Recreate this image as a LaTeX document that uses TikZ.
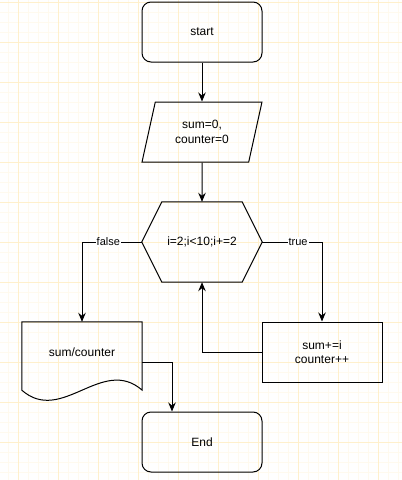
\documentclass[tikz,border=0pt]{standalone}
\usepackage{fontspec}
\setmainfont{Liberation Sans}
\usetikzlibrary{arrows.meta,shapes.geometric}
\definecolor{gridmajor}{HTML}{FFF0CC}
\definecolor{gridminor}{HTML}{FFFAEE}
\begin{document}
\begin{tikzpicture}[x=1pt,y=-1pt,
    every node/.style={font=\fontsize{12}{14.4}\selectfont, align=center},
    box/.style={draw, line width=1pt, minimum width=120pt, minimum height=60pt, inner sep=0pt},
    term/.style={box, rounded corners=9pt},
    io/.style={box, trapezium, trapezium stretches=true,
      trapezium left angle=71.57, trapezium right angle=108.43},
    plain/.style={minimum width=120pt, minimum height=60pt, inner sep=0pt},
    outline/.style={line width=1pt},
    flow/.style={line width=1pt, -{Stealth[length=9pt,width=7.5pt,inset=3pt]}},
    lbl/.style={fill=white, font=\fontsize{11}{13}\selectfont, inner sep=1pt}]
  \useasboundingbox (0,0) rectangle (402,480);
  \fill[white] (0,0) rectangle (402,480);
  \foreach \x in {8,18,...,398} \draw[gridminor] (\x,0) -- (\x,480);
  \foreach \y in {2,12,...,472} \draw[gridminor] (0,\y) -- (402,\y);
  \foreach \x in {18,58,...,378} \draw[gridmajor] (\x,0) -- (\x,480);
  \foreach \y in {2,42,...,442} \draw[gridmajor] (0,\y) -- (402,\y);

  \node[term] (S) at (202,32) {start};
  \node[io] (I) at (202,132) {sum=0,\\counter=0};
  \node[plain, minimum height=80pt] (L) at (202,242) {i=2;i<10;i+=2};
  \draw[outline] (L.west) -- ([xshift=20pt]L.north west) -- ([xshift=-20pt]L.north east)
    -- (L.east) -- ([xshift=-20pt]L.south east) -- ([xshift=20pt]L.south west) -- cycle;
  \node[box] (P) at (322,352) {sum+=i\\counter++};
  \node[plain] (O) at (82,352) {sum/counter};
  \draw[outline] (O.north west) -- (O.north east) -- ([yshift=-8pt]O.south east)
    .. controls ([shift={(-40pt,27pt)}]O.south east) and ([shift={(40pt,-43pt)}]O.south west)
    .. ([yshift=-8pt]O.south west) -- cycle;
  \node[term] (E) at (202,442) {End};

  \draw[flow] (S) -- (I);
  \draw[flow] (I) -- (L);
  \draw[flow] (L.west) -| node[lbl, pos=0.28] {false} (O.north);
  \draw[flow] (L.east) -| node[lbl, pos=0.3] {true} (P.north);
  \draw[flow] (P.west) -| (L.south);
  \draw[flow] ([yshift=-10pt]O.east) -| ([xshift=-30pt]E.north);
\end{tikzpicture}
\end{document}
